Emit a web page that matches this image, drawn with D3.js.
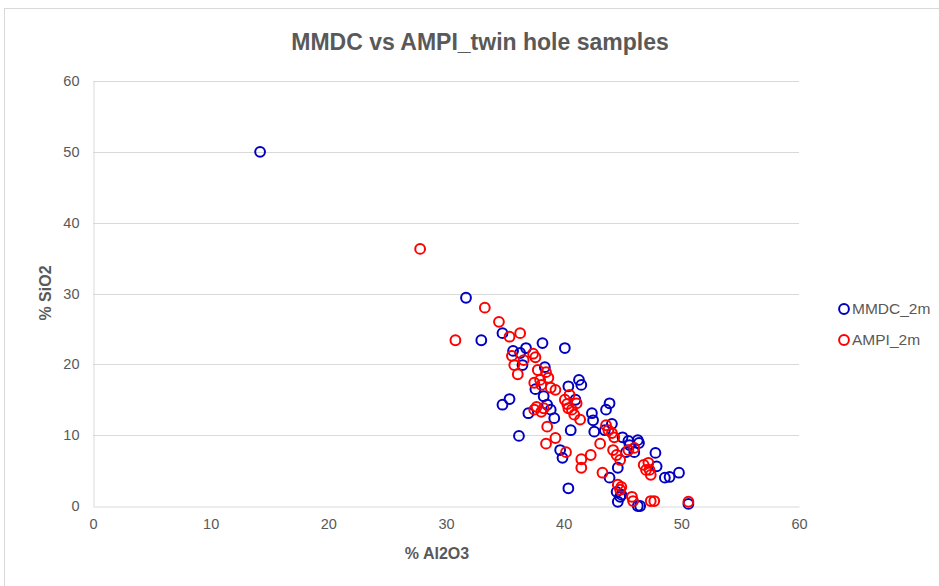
<!DOCTYPE html>
<html><head><meta charset="utf-8">
<script src="https://cdn.jsdelivr.net/npm/d3@7"></script>
<style>body{margin:0;background:#fff;}svg{display:block;font-family:"Liberation Sans",Arial,sans-serif;}</style>
</head><body>
<svg id="c" width="939" height="586"></svg>
<script>
const title = "MMDC vs AMPI_twin hole samples";
const xTitle = "% Al2O3";
const yTitle = "% SiO2";
const xTicks = [0,10,20,30,40,50,60];
const yTicks = [0,10,20,30,40,50,60];
const seriesNames = ["MMDC_2m","AMPI_2m"];
const seriesColors = ["#0000c0","#ff0000"];
const mmdcAl = [14.2,31.7,33.0,34.8,34.8,35.4,35.7,36.2,36.3,36.8,36.5,37.0,37.6,38.2,38.4,38.3,38.6,38.9,39.2,39.7,39.9,40.1,40.4,40.6,40.4,41.0,41.3,41.5,42.4,42.5,42.6,43.5,43.6,43.9,44.1,43.9,44.6,44.5,44.6,44.8,44.9,45.0,45.3,45.5,45.6,46.0,46.3,46.4,46.3,46.5,47.8,47.9,48.6,49.0,49.8,50.6];
const mmdcSi = [50.0,29.4,23.4,24.4,14.3,15.1,21.9,9.9,21.6,22.3,19.9,13.1,16.5,23.0,19.6,15.5,14.3,13.6,12.4,7.9,6.8,22.3,16.9,10.7,2.5,15.0,17.8,17.1,13.1,12.1,10.5,10.7,13.6,14.5,11.6,4.0,5.4,2.0,0.6,1.3,1.6,9.7,7.6,9.2,8.6,7.6,9.3,8.9,0.0,0.0,7.5,5.6,4.0,4.1,4.7,0.3];
const ampiAl = [27.8,30.8,33.3,34.5,35.4,36.3,35.6,35.8,36.1,36.6,37.4,37.6,37.5,37.8,38.0,38.1,38.5,38.7,38.9,39.3,37.5,37.7,38.1,38.3,38.6,38.5,39.3,40.1,40.3,40.4,40.5,40.7,40.9,41.1,41.4,40.2,41.5,41.5,42.3,43.1,43.3,43.6,43.8,44.1,44.3,44.2,44.5,44.8,44.6,44.9,44.8,45.8,45.9,46.8,47.0,47.2,47.4,47.3,47.4,47.7,50.6,46.0,45.5];
const ampiSi = [36.3,23.4,28.0,26.0,23.9,24.4,21.2,19.9,18.6,20.6,21.5,21.0,17.4,19.2,17.8,17.1,18.9,18.1,16.7,16.4,13.6,14.0,13.3,13.8,11.2,8.8,9.6,15.0,14.4,13.8,15.7,13.6,12.9,14.5,12.2,7.6,6.6,5.4,7.2,8.8,4.7,11.4,10.7,10.3,9.7,7.9,7.2,6.5,3.0,2.7,2.3,1.3,0.7,5.8,5.1,6.1,4.4,5.1,0.7,0.7,0.6,8.2,7.9];

const svg = d3.select("#c");
svg.append("rect").attr("x",4.5).attr("y",8.5).attr("width",940).attr("height",600)
  .attr("fill","#fff").attr("stroke","#d9d9d9");

const x = d3.scaleLinear().domain([0,60]).range([93,799]);
const y = d3.scaleLinear().domain([0,60]).range([506,81]);
const grey = "#595959";

svg.append("g").selectAll("line").data(yTicks.filter(d=>d>0)).join("line")
  .attr("x1",x(0)).attr("x2",x(60)).attr("y1",d=>Math.round(y(d))+0.5).attr("y2",d=>Math.round(y(d))+0.5)
  .attr("stroke","#d9d9d9").attr("stroke-width",1);

const xAxis = svg.append("g").attr("transform",`translate(0,${Math.round(y(0))+0.5})`)
  .call(d3.axisBottom(x).tickValues(xTicks).tickSize(0).tickPadding(12));
const yAxis = svg.append("g").attr("transform",`translate(${Math.round(x(0))+0.5},0)`)
  .call(d3.axisLeft(y).tickValues(yTicks).tickSize(0).tickPadding(14));
[xAxis,yAxis].forEach(a=>{
  a.select(".domain").attr("stroke","#d9d9d9");
  a.selectAll("text").attr("fill",grey).attr("font-size",14.5).attr("font-family","Liberation Sans, Arial, sans-serif");
});

function pts(al, si, color){
  svg.append("g").selectAll("circle").data(al.map((d,i)=>[d,si[i]])).join("circle")
    .attr("cx",d=>x(d[0])).attr("cy",d=>y(d[1])).attr("r",4.9)
    .attr("fill","none").attr("stroke",color).attr("stroke-width",2);
}
pts(mmdcAl, mmdcSi, seriesColors[0]);
pts(ampiAl, ampiSi, seriesColors[1]);

svg.append("text").attr("x",480).attr("y",50).attr("text-anchor","middle")
  .attr("font-size",23).attr("font-weight","bold").attr("fill",grey).text(title);
svg.append("text").attr("x",437).attr("y",559).attr("text-anchor","middle")
  .attr("font-size",16).attr("font-weight","bold").attr("fill",grey).text(xTitle);
svg.append("text").attr("transform","translate(51,293) rotate(-90)").attr("text-anchor","middle")
  .attr("font-size",16).attr("font-weight","bold").attr("fill",grey).text(yTitle);

const lg = svg.append("g");
seriesNames.forEach((n,i)=>{
  const ly = 309 + i*31;
  lg.append("circle").attr("cx",844).attr("cy",ly).attr("r",4.9).attr("fill","none")
    .attr("stroke",seriesColors[i]).attr("stroke-width",2);
  lg.append("text").attr("x",852).attr("y",ly+5).attr("font-size",15.5).attr("fill",grey).text(n);
});
</script>
</body></html>
